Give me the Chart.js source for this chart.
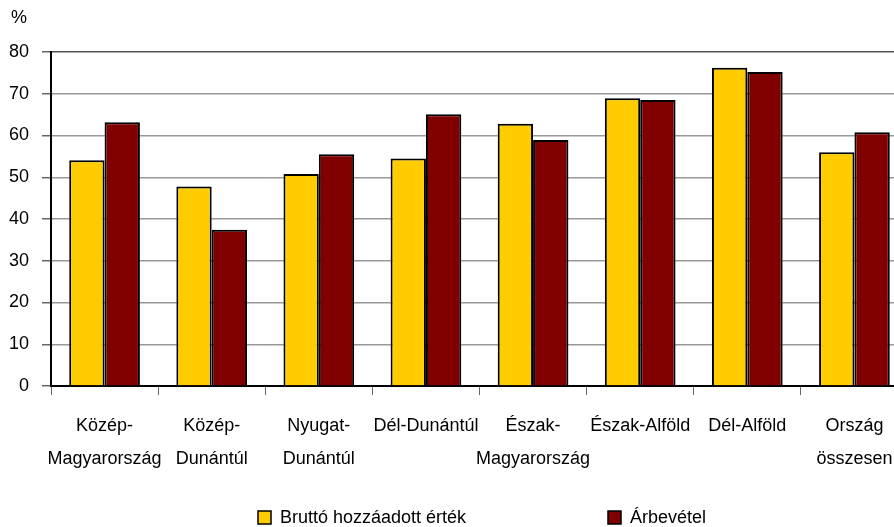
<!DOCTYPE html>
<html>
<head>
<meta charset="utf-8">
<script src="https://cdn.jsdelivr.net/npm/chart.js@4"></script>
<style>
  html, body { margin: 0; padding: 0; background: #fff; overflow: hidden; }
  #wrap { width: 912px; height: 527px; }
</style>
</head>
<body>
<div id="wrap"><canvas id="chart" width="912" height="527"></canvas></div>
<script>
// regions
const regions = [
  ["Közép-", "Magyarország"],
  ["Közép-", "Dunántúl"],
  ["Nyugat-", "Dunántúl"],
  ["Dél-Dunántúl"],
  ["Észak-", "Magyarország"],
  ["Észak-Alföld"],
  ["Dél-Alföld"],
  ["Ország", "összesen"],
];

// share values, %
const grossValueAdded = [54.1, 47.8, 50.8, 54.5, 62.8, 68.9, 76.2, 56.0];
const revenue = [63.2, 37.4, 55.5, 65.1, 58.9, 68.5, 75.2, 60.8];

const seriesNames = ["Bruttó hozzáadott érték", "Árbevétel"];
const yTicks = [0, 10, 20, 30, 40, 50, 60, 70, 80];

const FONT = '"Liberation Sans", Arial, sans-serif';
const SIZE = 18;

// "%" unit and the bottom legend
const extras = {
  id: "extras",
  afterDraw(chart) {
    const ctx = chart.ctx;
    ctx.save();
    ctx.font = SIZE + "px " + FONT;
    ctx.fillStyle = "#000";
    ctx.textBaseline = "middle";
    ctx.textAlign = "left";
    ctx.fillText("%", 11, 18);

    const spots = [258, 608];
    chart.data.datasets.forEach((ds, i) => {
      const x = spots[i];
      ctx.fillStyle = ds.backgroundColor;
      ctx.fillRect(x, 511, 13, 13);
      ctx.strokeStyle = "#000";
      ctx.lineWidth = 1.5;
      ctx.strokeRect(x, 511, 13, 13);
      ctx.fillStyle = "#000";
      ctx.fillText(ds.label, x + 22, 518);
    });
    ctx.restore();
  },
};

new Chart(document.getElementById("chart"), {
  type: "bar",
  data: {
    labels: regions,
    datasets: [
      {
        label: seriesNames[0],
        data: grossValueAdded,
        backgroundColor: "#FFCC00",
        borderColor: "#000",
        borderWidth: 2,
      },
      {
        label: seriesNames[1],
        data: revenue,
        backgroundColor: "#800000",
        borderColor: "#000",
        borderWidth: 2,
      },
    ],
  },
  options: {
    responsive: false,
    animation: false,
    layout: { padding: { top: 52, right: 4, left: 0, bottom: 0 } },
    datasets: {
      bar: { categoryPercentage: 0.66, barPercentage: 1 },
    },
    plugins: {
      legend: { display: false },
      tooltip: { enabled: false },
    },
    scales: {
      x: {
        grid: {
          drawOnChartArea: false,
          drawTicks: true,
          tickLength: 9,
          tickColor: "#666",
          offset: true,
        },
        border: { color: "#000", width: 2 },
        ticks: {
          color: "#000",
          font: { family: FONT, size: SIZE, lineHeight: 33 / SIZE },
          padding: 15,
          maxRotation: 0,
          autoSkip: false,
        },
        afterFit(scale) {
          scale.height = 141;
        },
      },
      y: {
        min: 0,
        max: 80,
        afterBuildTicks(scale) {
          scale.ticks = yTicks.map((v) => ({ value: v }));
        },
        grid: {
          color: (c) => (c.tick && c.tick.value === 80 ? "#555" : "#999"),
          lineWidth: 1.5,
          tickLength: 9,
          tickColor: "#666",
        },
        border: { color: "#000", width: 2 },
        ticks: {
          color: "#000",
          font: { family: FONT, size: SIZE },
          padding: 13,
        },
        afterFit(scale) {
          scale.width = 51;
        },
      },
    },
  },
  plugins: [extras],
});
</script>
</body>
</html>
